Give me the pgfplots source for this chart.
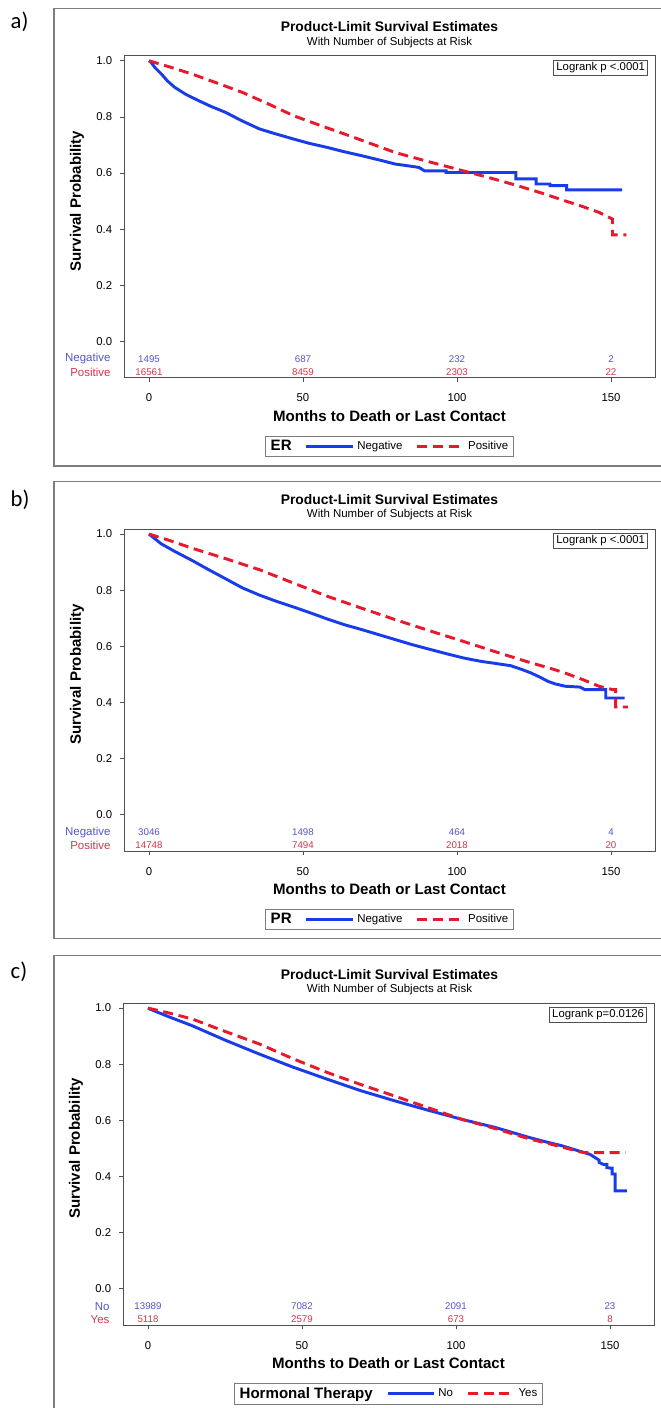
\documentclass[border=0pt]{standalone}
\usepackage{fontspec}
\setmainfont{Liberation Sans}
\newfontfamily\letterfont{Carlito}
\usepackage{pgfplots}
\pgfplotsset{compat=1.18}
\definecolor{kmblue}{RGB}{25,60,235}
\definecolor{kmred}{RGB}{230,25,45}
\definecolor{riskblue}{RGB}{85,85,205}
\definecolor{riskred}{RGB}{205,55,75}
\definecolor{framegray}{RGB}{125,125,125}
\definecolor{boxgray}{RGB}{80,80,80}
\newcommand{\fs}[1]{\fontsize{#1}{#1}\selectfont}

\pgfplotsset{
  km/.style={
    scale only axis, width=398.25pt, height=241.5pt,
    anchor=north west, clip=false,
    xmin=-8.12, xmax=164.3, ymin=-0.13, ymax=1.017,
    xtick={0,50,100,150}, ytick={0,0.2,0.4,0.6,0.8,1.0},
    tick pos=left, tick align=outside, major tick length=3pt,
    tick style={boxgray, line width=0.6pt},
    axis line style={boxgray, line width=0.75pt},
    /pgf/number format/assume math mode=true,
    yticklabel style={/pgf/number format/fixed, /pgf/number format/fixed zerofill, /pgf/number format/precision=1, xshift=-2.4pt},
    ticklabel style={font=\fs{8.5}},
    xticklabel style={yshift=-5.4pt},
    xlabel={Months to Death or Last Contact},
    xlabel style={at={(rel axis cs:0.5,0)}, anchor=center, yshift=-28.5pt, font=\fs{11.3}\bfseries},
    ylabel={Survival Probability},
    ylabel style={at={(axis cs:-23.4,0.5)}, anchor=center, font=\fs{11.3}\bfseries},
    legend columns=3,
    legend cell align=left,
    legend style={at={(0.5,-0.212)}, anchor=center, draw=framegray, line width=0.75pt,
      font=\fs{8.6}, inner xsep=2pt, inner ysep=1pt,
      /tikz/every even column/.append style={column sep=8pt}},
    legend image code/.code={\draw[##1] (0pt,0pt) -- (35pt,0pt);},
  },
  bluecurve/.style={kmblue, line width=2.2pt},
  redcurve/.style={kmred, line width=2.2pt, dash pattern=on 7.5pt off 4.25pt},
  riskrow/.style={forget plot, only marks, mark=*, mark size=0pt,
    mark options={draw=none,fill=none}, nodes near coords,
    point meta=explicit symbolic,
    nodes near coords style={anchor=center, font=\fs{7.3}, text=#1, inner sep=0pt}},
}

\begin{document}
\begin{tikzpicture}
\begin{scope}[x=0.75pt,y=-0.75pt]
  \path[use as bounding box] (0,0) rectangle (660,1408);
  % frames
  \draw[framegray, line width=1.1pt] (54,8.3) rectangle (668,466);
  \draw[framegray, line width=1.1pt] (54,481.3) rectangle (668,938.3);
  \draw[framegray, line width=1.1pt] (54,955.7) rectangle (668,1420);
  % letters
  \node[anchor=west, font=\letterfont\fs{17}] at (6,22) {a)};
  \node[anchor=west, font=\letterfont\fs{17}] at (6,499.5) {b)};
  \node[anchor=west, font=\letterfont\fs{17}] at (6,971.7) {c)};
  % titles
  \node[font=\fs{10.4}\bfseries] at (389.5,26.7) {Product-Limit Survival Estimates};
  \node[font=\fs{8.6}] at (389.5,42.3) {With Number of Subjects at Risk};
  \node[font=\fs{10.4}\bfseries] at (389.5,500) {Product-Limit Survival Estimates};
  \node[font=\fs{8.6}] at (389.5,515) {With Number of Subjects at Risk};
  \node[font=\fs{10.4}\bfseries] at (389.5,975) {Product-Limit Survival Estimates};
  \node[font=\fs{8.6}] at (389.5,990) {With Number of Subjects at Risk};
\end{scope}

% ---------------- a) ER ----------------
\begin{axis}[km, at={(124*0.75pt,-56*0.75pt)},
  legend entries={{\fs{11.3}\bfseries ER}, Negative, Positive}]
\addlegendimage{empty legend}
\addplot[bluecurve] coordinates {
(0,1.0) (0.7,0.994) (2,0.975) (4,0.953) (6,0.928) (8.4,0.905) (12,0.88)
(16.1,0.858) (20,0.838) (24.9,0.816) (30,0.787) (35.9,0.757) (41,0.74)
(47,0.721) (52,0.706) (58,0.691) (63,0.677) (69,0.662) (75,0.646) (80,0.632)
(84,0.626) (87.7,0.62) (89.4,0.608) (96.5,0.608) (96.5,0.602) (119.1,0.602)
(119.1,0.579) (125.7,0.579) (125.7,0.561) (130.2,0.561) (130.2,0.555)
(135.6,0.555) (135.6,0.54) (153.6,0.54)};
\addplot[redcurve] coordinates {
(0,1.0) (7,0.977) (13.9,0.953) (22,0.921) (30.4,0.887) (39,0.845) (47,0.804)
(55,0.772) (63.5,0.739) (72,0.705) (80,0.673) (91,0.64) (102,0.608)
(111,0.582) (119.7,0.555) (128,0.527) (135.1,0.501) (141,0.48) (146.1,0.46)
(150.5,0.436) (150.5,0.38) (155,0.38)};
\addplot[riskrow=riskblue] coordinates {(0,-0.062)[1495] (50,-0.062)[687] (100,-0.062)[232] (150,-0.062)[2]};
\addplot[riskrow=riskred] coordinates {(0,-0.109)[16561] (50,-0.109)[8459] (100,-0.109)[2303] (150,-0.109)[22]};
\node[anchor=east, text=riskblue, font=\fs{8.6}] at (axis cs:-11,-0.062) {Negative};
\node[anchor=east, text=riskred, font=\fs{8.6}] at (axis cs:-11,-0.109) {Positive};
\node[anchor=north east, draw=boxgray, line width=0.6pt, font=\fs{8.5}, inner xsep=2pt, inner ysep=1.5pt, xshift=-5.25pt, yshift=-3pt] at (rel axis cs:1,1) {Logrank p <.0001};
\end{axis}

% ---------------- b) PR ----------------
\begin{axis}[km, at={(124*0.75pt,-529.3*0.75pt)},
  legend entries={{\fs{11.3}\bfseries PR}, Negative, Positive}]
\addlegendimage{empty legend}
\addplot[bluecurve] coordinates {
(0,1.0) (0.7,0.994) (4,0.965) (8.4,0.938) (14,0.906) (19.4,0.873) (25,0.84)
(30.4,0.808) (36,0.782) (41.5,0.76) (47,0.74) (52.5,0.719) (58,0.697)
(63.5,0.677) (69,0.66) (74.5,0.642) (80,0.624) (85.5,0.606) (91,0.59)
(96.5,0.574) (102,0.559) (107.6,0.547) (112,0.54) (117.5,0.531) (121,0.518)
(124.1,0.505) (127,0.49) (129.6,0.475) (132,0.466) (135.1,0.458) (140,0.455)
(141.5,0.446) (148.3,0.446) (148.3,0.416) (154.4,0.416)};
\addplot[redcurve] coordinates {
(0,1.0) (7,0.976) (13.9,0.95) (25,0.912) (35.9,0.873) (47,0.825) (58,0.778)
(69,0.736) (80,0.695) (91,0.656) (102,0.618) (113,0.579) (124.1,0.541)
(130,0.523) (135.1,0.505) (141,0.481) (146.1,0.458) (150.5,0.446)
(151.5,0.446) (151.5,0.384) (155.5,0.384)};
\addplot[riskrow=riskblue] coordinates {(0,-0.062)[3046] (50,-0.062)[1498] (100,-0.062)[464] (150,-0.062)[4]};
\addplot[riskrow=riskred] coordinates {(0,-0.109)[14748] (50,-0.109)[7494] (100,-0.109)[2018] (150,-0.109)[20]};
\node[anchor=east, text=riskblue, font=\fs{8.6}] at (axis cs:-11,-0.062) {Negative};
\node[anchor=east, text=riskred, font=\fs{8.6}] at (axis cs:-11,-0.109) {Positive};
\node[anchor=north east, draw=boxgray, line width=0.6pt, font=\fs{8.5}, inner xsep=2pt, inner ysep=1.5pt, xshift=-5.25pt, yshift=-3pt] at (rel axis cs:1,1) {Logrank p <.0001};
\end{axis}

% ---------------- c) Hormonal therapy ----------------
\begin{axis}[km, at={(123*0.75pt,-1003.3*0.75pt)},
  legend entries={{\fs{11.3}\bfseries Hormonal Therapy}, No, Yes}]
\addlegendimage{empty legend}
\addplot[bluecurve] coordinates {
(0,1.0) (0.7,0.996) (7,0.968) (14.4,0.937) (25,0.886) (36.2,0.836) (47,0.79)
(58.1,0.747) (69,0.706) (80,0.67) (91,0.636) (101.8,0.604) (113,0.574)
(123.8,0.539) (129,0.524) (134.6,0.509) (139,0.494) (143.5,0.479)
(145.1,0.468) (146.5,0.458) (146.5,0.45) (147.9,0.443) (149,0.443)
(149,0.432) (150.1,0.43) (150.7,0.43) (150.7,0.409) (151.7,0.409)
(151.7,0.349) (155.5,0.349)};
\addplot[redcurve] coordinates {
(0,1.0) (7,0.982) (14.4,0.961) (25,0.917) (36.2,0.872) (47,0.82) (58.1,0.771)
(69,0.728) (80,0.687) (91,0.645) (101.8,0.604) (113,0.57) (123.8,0.534)
(132,0.512) (140.3,0.488) (142,0.485) (155.1,0.485)};
\addplot[riskrow=riskblue] coordinates {(0,-0.062)[13989] (50,-0.062)[7082] (100,-0.062)[2091] (150,-0.062)[23]};
\addplot[riskrow=riskred] coordinates {(0,-0.109)[5118] (50,-0.109)[2579] (100,-0.109)[673] (150,-0.109)[8]};
\node[anchor=east, text=riskblue, font=\fs{8.6}] at (axis cs:-11,-0.062) {No};
\node[anchor=east, text=riskred, font=\fs{8.6}] at (axis cs:-11,-0.109) {Yes};
\node[anchor=north east, draw=boxgray, line width=0.6pt, font=\fs{8.5}, inner xsep=2pt, inner ysep=1.5pt, xshift=-5.25pt, yshift=-3pt] at (rel axis cs:1,1) {Logrank p=0.0126};
\end{axis}
\end{tikzpicture}
\end{document}
